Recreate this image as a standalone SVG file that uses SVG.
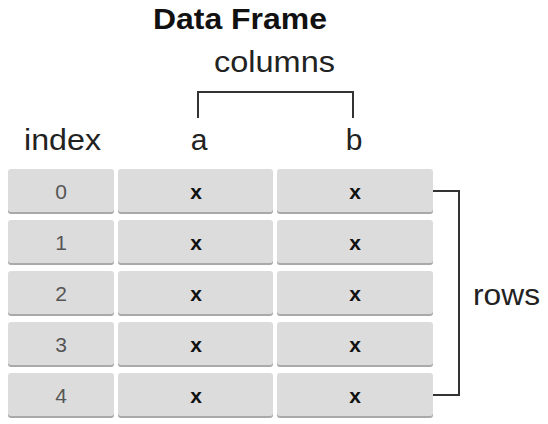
<svg xmlns="http://www.w3.org/2000/svg" width="548" height="424" viewBox="0 0 548 424">
<defs>
<style>
.cell{fill:#dcdcdd}
.shadow{fill:#a9a9ab}
.idx{font-family:"Liberation Sans",Arial,sans-serif;font-size:21px;fill:#555;text-anchor:middle}
.val{font-family:"Liberation Sans",Arial,sans-serif;font-size:21px;font-weight:bold;fill:#111;text-anchor:middle}
.lbl{font-family:"Liberation Sans",Arial,sans-serif;font-size:30px;fill:#222}
.br{fill:none;stroke:#333;stroke-width:2}
</style>
</defs>
<rect width="548" height="424" fill="#fff"/>
<g id="title"><text x="153" y="29" font-family="Liberation Sans,Arial,sans-serif" font-size="29" font-weight="bold" fill="#111" textLength="174" lengthAdjust="spacingAndGlyphs">Data Frame</text></g>
<g id="columns-label"><text class="lbl" x="214" y="72" textLength="121" lengthAdjust="spacingAndGlyphs">columns</text></g>
<g id="index-label"><text class="lbl" x="24" y="150" textLength="77" lengthAdjust="spacingAndGlyphs">index</text></g>
<g id="a-label"><text class="lbl" x="199" y="150" text-anchor="middle">a</text></g>
<g id="b-label"><text class="lbl" x="354" y="150" text-anchor="middle">b</text></g>
<g id="rows-label"><text class="lbl" x="473" y="305" textLength="67" lengthAdjust="spacingAndGlyphs">rows</text></g>
<g id="connectors">
<path class="br" d="M198,118 V92 H353 V118"/>
<path class="br" d="M433,191 H459 V395 H433"/>
</g>
<g id="row0">
<rect class="shadow" x="8" y="171" width="106" height="43" rx="3"/><rect class="cell" x="8" y="169" width="106" height="43" rx="3"/>
<rect class="shadow" x="118" y="171" width="155" height="43" rx="3"/><rect class="cell" x="118" y="169" width="155" height="43" rx="3"/>
<rect class="shadow" x="277" y="171" width="156" height="43" rx="3"/><rect class="cell" x="277" y="169" width="156" height="43" rx="3"/>
<text class="idx" x="61" y="199">0</text><text class="val" x="196" y="199">x</text><text class="val" x="355" y="199">x</text>
</g>
<g id="row1">
<rect class="shadow" x="8" y="222" width="106" height="43" rx="3"/><rect class="cell" x="8" y="220" width="106" height="43" rx="3"/>
<rect class="shadow" x="118" y="222" width="155" height="43" rx="3"/><rect class="cell" x="118" y="220" width="155" height="43" rx="3"/>
<rect class="shadow" x="277" y="222" width="156" height="43" rx="3"/><rect class="cell" x="277" y="220" width="156" height="43" rx="3"/>
<text class="idx" x="61" y="250">1</text><text class="val" x="196" y="250">x</text><text class="val" x="355" y="250">x</text>
</g>
<g id="row2">
<rect class="shadow" x="8" y="273" width="106" height="43" rx="3"/><rect class="cell" x="8" y="271" width="106" height="43" rx="3"/>
<rect class="shadow" x="118" y="273" width="155" height="43" rx="3"/><rect class="cell" x="118" y="271" width="155" height="43" rx="3"/>
<rect class="shadow" x="277" y="273" width="156" height="43" rx="3"/><rect class="cell" x="277" y="271" width="156" height="43" rx="3"/>
<text class="idx" x="61" y="301">2</text><text class="val" x="196" y="301">x</text><text class="val" x="355" y="301">x</text>
</g>
<g id="row3">
<rect class="shadow" x="8" y="324" width="106" height="43" rx="3"/><rect class="cell" x="8" y="322" width="106" height="43" rx="3"/>
<rect class="shadow" x="118" y="324" width="155" height="43" rx="3"/><rect class="cell" x="118" y="322" width="155" height="43" rx="3"/>
<rect class="shadow" x="277" y="324" width="156" height="43" rx="3"/><rect class="cell" x="277" y="322" width="156" height="43" rx="3"/>
<text class="idx" x="61" y="352">3</text><text class="val" x="196" y="352">x</text><text class="val" x="355" y="352">x</text>
</g>
<g id="row4">
<rect class="shadow" x="8" y="375" width="106" height="43" rx="3"/><rect class="cell" x="8" y="373" width="106" height="43" rx="3"/>
<rect class="shadow" x="118" y="375" width="155" height="43" rx="3"/><rect class="cell" x="118" y="373" width="155" height="43" rx="3"/>
<rect class="shadow" x="277" y="375" width="156" height="43" rx="3"/><rect class="cell" x="277" y="373" width="156" height="43" rx="3"/>
<text class="idx" x="61" y="403">4</text><text class="val" x="196" y="403">x</text><text class="val" x="355" y="403">x</text>
</g>
</svg>
